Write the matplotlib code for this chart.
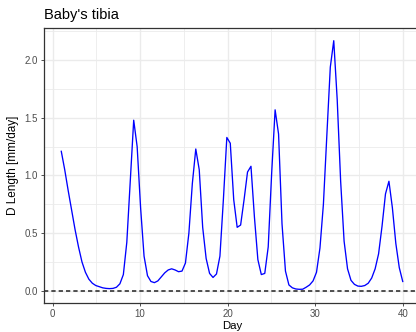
import matplotlib
matplotlib.use("Agg")
import matplotlib.pyplot as plt
import numpy as np
from matplotlib.ticker import MultipleLocator

plt.rcParams['font.family'] = ['Liberation Sans', 'DejaVu Sans']

# Daily growth rate of the tibia, 100 samples spread over days 1..40
day_first = 1
day_last = 40
n_samples = 100
growth = [
    1.21, 1.05, 0.87, 0.70, 0.53, 0.38, 0.25, 0.16, 0.10, 0.065,
    0.045, 0.035, 0.025, 0.02, 0.018, 0.02, 0.03, 0.06, 0.14, 0.42,
    0.95, 1.48, 1.25, 0.72, 0.30, 0.13, 0.08, 0.07, 0.085, 0.12,
    0.155, 0.18, 0.19, 0.18, 0.165, 0.17, 0.24, 0.50, 0.93, 1.23,
    1.05, 0.55, 0.28, 0.15, 0.115, 0.145, 0.30, 0.79, 1.33, 1.28,
    0.79, 0.55, 0.57, 0.79, 1.03, 1.08, 0.64, 0.27, 0.14, 0.15,
    0.38, 1.02, 1.57, 1.36, 0.58, 0.17, 0.05, 0.025, 0.015, 0.012,
    0.013, 0.03, 0.05, 0.085, 0.16, 0.37, 0.75, 1.35, 1.94, 2.17,
    1.66, 0.95, 0.43, 0.19, 0.09, 0.055, 0.04, 0.038, 0.045, 0.065,
    0.11, 0.19, 0.32, 0.56, 0.84, 0.95, 0.72, 0.41, 0.20, 0.08,
]
days = np.linspace(day_first, day_last, n_samples)

W, H = 416, 332
fig = plt.figure(figsize=(W / 100, H / 100), dpi=100)

# panel placed in pixel units (right edge runs just past the canvas)
left_px, right_px = 44.2, 419.8
top_px, bottom_px = 28.2, 303.2
ax = fig.add_axes([left_px / W, 1 - bottom_px / H,
                   (right_px - left_px) / W, (bottom_px - top_px) / H])

ax.plot(days, growth, color='blue', lw=0.95, zorder=3)
ax.axhline(0, color='#222222', lw=1.1, ls=(0, (2.8, 2.0)), zorder=2)

ax.set_xlim(-0.95, 41.95)
ax.set_ylim(-0.1085, 2.2785)

ax.xaxis.set_major_locator(MultipleLocator(10))
ax.xaxis.set_minor_locator(MultipleLocator(5))
ax.yaxis.set_major_locator(MultipleLocator(0.5))
ax.yaxis.set_minor_locator(MultipleLocator(0.25))
ax.yaxis.set_major_formatter(matplotlib.ticker.FormatStrFormatter('%.1f'))

ax.grid(which='major', color='#EBEBEB', lw=1.0)
ax.grid(which='minor', color='#EBEBEB', lw=0.6)
ax.set_axisbelow(True)

for side in ax.spines.values():
    side.set_color('#333333')
    side.set_linewidth(0.9)

ax.tick_params(which='major', length=2.5, width=0.6, color='#333333',
               labelsize=7, labelcolor='#4D4D4D', pad=2)
ax.tick_params(which='minor', length=0)

ax.set_xlabel('Day', fontsize=8.2, color='black', labelpad=1)
ax.set_ylabel('D Length [mm/day]', fontsize=8.5, color='black', labelpad=4)
fig.text(44.5 / W, 1 - 18.5 / H, "Baby's tibia", fontsize=10.5,
         ha='left', va='baseline')

fig.savefig('out.png', dpi=100)
plt.close(fig)
